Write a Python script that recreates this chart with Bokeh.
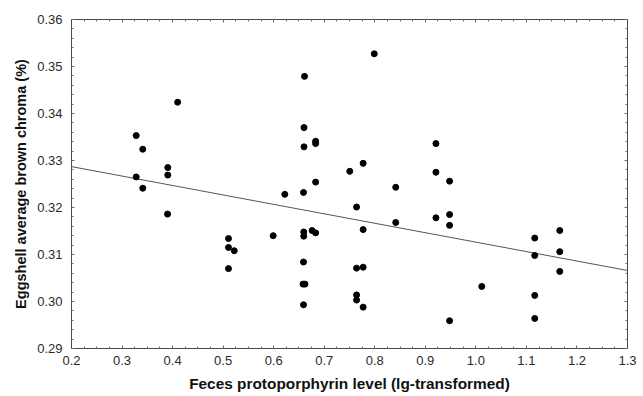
from bokeh.plotting import figure
from bokeh.models import (LinearAxis, SingleIntervalTicker, NumeralTickFormatter,
                          CustomJSTickFormatter, Range1d, ColumnDataSource)
from bokeh.embed import file_html
from bokeh.resources import INLINE

# Feces protoporphyrin level (lg-transformed)
x_vals = [0.328, 0.341, 0.410, 0.328, 0.341, 0.3905, 0.3905, 0.661, 0.660, 0.683,
          0.683, 0.660, 0.7505, 0.683, 0.622, 0.659, 0.799, 0.921, 0.777, 0.921,
          0.948, 0.8415, 0.390, 0.764, 0.5106, 0.5106, 0.522, 0.5106, 0.599, 0.6595,
          0.6595, 0.676, 0.683, 0.659, 0.658, 0.662, 0.659, 0.764, 0.764, 0.764,
          0.777, 0.8415, 0.921, 0.948, 0.948, 0.777, 0.777, 1.0117, 0.948, 1.1165,
          1.1165, 1.1165, 1.1165, 1.166, 1.166, 1.166]
# Eggshell average brown chroma (%)
y_vals = [0.3353, 0.3324, 0.3424, 0.3265, 0.3241, 0.3285, 0.3269, 0.3479, 0.3370, 0.3341,
          0.3336, 0.3329, 0.3277, 0.3254, 0.3228, 0.3232, 0.3527, 0.3336, 0.3294, 0.3275,
          0.3256, 0.3243, 0.3186, 0.3201, 0.3134, 0.3115, 0.3108, 0.3070, 0.3140, 0.3148,
          0.3139, 0.3151, 0.3146, 0.3084, 0.3037, 0.3037, 0.2993, 0.3071, 0.3014, 0.3003,
          0.3153, 0.3168, 0.3178, 0.3185, 0.3162, 0.3073, 0.2988, 0.3032, 0.2959, 0.3135,
          0.3098, 0.3013, 0.2964, 0.3151, 0.3106, 0.3064]

# regression line endpoints
fit_x = [0.2, 1.3]
fit_y = [0.3287, 0.3066]

x_title = "Feces protoporphyrin level (lg-transformed)"
y_title = "Eggshell average brown chroma (%)"

FONT = "Liberation Sans"
AXIS_COLOR = "#4a4a4a"
TICK_COLOR = "#6a6a6a"

p = figure(width=643, height=396, output_backend="svg", toolbar_location=None,
           x_range=Range1d(0.2, 1.3), y_range=Range1d(0.29, 0.36),
           x_axis_type=None, y_axis_type=None,
           min_border_left=71, min_border_right=16, min_border_top=19, min_border_bottom=48)
p.xgrid.visible = False
p.ygrid.visible = False
p.outline_line_color = None
p.background_fill_color = "white"
p.border_fill_color = "white"

def style(ax, labels=True):
    ax.axis_line_color = AXIS_COLOR
    ax.axis_line_width = 1
    ax.major_tick_in = 3
    ax.major_tick_out = 0
    ax.minor_tick_in = 2
    ax.minor_tick_out = 0
    ax.major_tick_line_color = TICK_COLOR
    ax.minor_tick_line_color = TICK_COLOR
    if labels:
        ax.major_label_text_font = FONT
        ax.major_label_text_font_size = "13px"
        ax.major_label_text_color = "#2a2a2a"
        ax.axis_label_text_font = FONT
        ax.axis_label_text_font_style = "bold"
        ax.axis_label_text_color = "#111111"
    else:
        ax.formatter = CustomJSTickFormatter(code="return ''")
        ax.major_label_standoff = 0
        ax.axis_label = None

xt = lambda: SingleIntervalTicker(interval=0.1, num_minor_ticks=4)
yt = lambda: SingleIntervalTicker(interval=0.01, num_minor_ticks=5)

bottom = LinearAxis(ticker=xt(), formatter=NumeralTickFormatter(format="0.0"), axis_label=x_title)
style(bottom)
bottom.axis_label_text_font_size = "15.4px"
bottom.major_label_standoff = 7
bottom.axis_label_standoff = 7
left = LinearAxis(ticker=yt(), formatter=NumeralTickFormatter(format="0.00"), axis_label=y_title)
style(left)
left.axis_label_text_font_size = "14.5px"
left.major_label_standoff = 9
left.axis_label_standoff = 5
top = LinearAxis(ticker=xt())
style(top, labels=False)
right = LinearAxis(ticker=yt())
style(right, labels=False)

p.add_layout(bottom, "below")
p.add_layout(left, "left")
p.add_layout(top, "above")
p.add_layout(right, "right")

p.line(fit_x, fit_y, line_color="#555555", line_width=1)
src = ColumnDataSource(dict(x=x_vals, y=y_vals))
p.scatter("x", "y", source=src, size=6, fill_color="black", line_color="black")

open("out.html", "w").write(file_html(p, INLINE))
